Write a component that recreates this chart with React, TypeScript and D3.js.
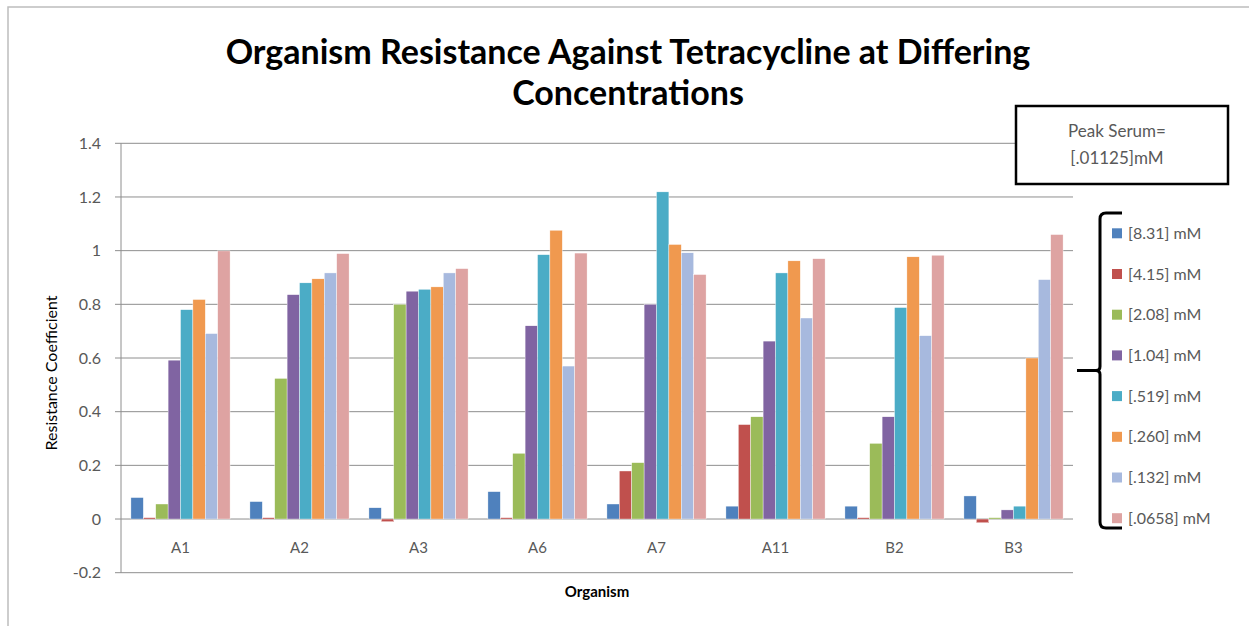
import React from "react";
import * as d3 from "d3";

// Organisms on the category axis
const organisms = ["A1", "A2", "A3", "A6", "A7", "A11", "B2", "B3"];

// Tetracycline concentrations (one series each)
const concentrations = [
  "[8.31] mM",
  "[4.15] mM",
  "[2.08] mM",
  "[1.04] mM",
  "[.519] mM",
  "[.260] mM",
  "[.132] mM",
  "[.0658] mM",
];

// Resistance coefficients, one array per concentration, in organism order
const c831 = [0.08, 0.065, 0.042, 0.102, 0.056, 0.048, 0.048, 0.086];
const c415 = [0.005, 0.005, -0.01, 0.005, 0.179, 0.352, 0.005, -0.014];
const c208 = [0.056, 0.524, 0.8, 0.245, 0.21, 0.381, 0.282, 0.005];
const c104 = [0.592, 0.836, 0.849, 0.72, 0.8, 0.663, 0.381, 0.034];
const c519 = [0.78, 0.88, 0.856, 0.985, 1.219, 0.917, 0.788, 0.048];
const c260 = [0.818, 0.895, 0.865, 1.076, 1.023, 0.962, 0.977, 0.6];
const c132 = [0.691, 0.917, 0.917, 0.57, 0.992, 0.749, 0.683, 0.892];
const c0658 = [0.999, 0.989, 0.933, 0.991, 0.911, 0.97, 0.983, 1.06];

const seriesValues = [c831, c415, c208, c104, c519, c260, c132, c0658];

const yTicks = [-0.2, 0, 0.2, 0.4, 0.6, 0.8, 1, 1.2, 1.4];

const colors = [
  "#4F81BD",
  "#C0504D",
  "#9BBB59",
  "#8064A2",
  "#4BACC6",
  "#F0994F",
  "#A7B9DE",
  "#DEA3A2",
];

const W = 1249;
const H = 626;
const FONT = "Lato, 'Open Sans', sans-serif";
const plot = { left: 121, right: 1073, top: 143.3, bottom: 572.7 };

export default function App() {
  const y = d3.scaleLinear().domain([-0.2, 1.4]).range([plot.bottom, plot.top]);
  const x0 = d3.scaleBand<string>().domain(organisms).range([plot.left, plot.right]);
  const x1 = d3
    .scaleBand<number>()
    .domain(d3.range(concentrations.length))
    .range([0, x0.bandwidth()])
    .paddingInner(0)
    .paddingOuter(0.8);

  const gridColor = "#8E8E8E";
  const labelColor = "#595959";

  // legend layout
  const legendTop = 233.3;
  const legendStep = 40.7;
  const braceTop = 213;
  const braceBottom = 528;
  const braceX = 1100;
  const braceMid = (braceTop + braceBottom) / 2;
  const r = 6;
  const bracePath = [
    `M1122,${braceTop}`,
    `L${braceX + r},${braceTop}`,
    `Q${braceX},${braceTop} ${braceX},${braceTop + r}`,
    `L${braceX},${braceMid - 4}`,
    `Q${braceX},${braceMid} ${braceX - 4},${braceMid}`,
    `L1077,${braceMid}`,
    `M${braceX - 4},${braceMid}`,
    `Q${braceX},${braceMid} ${braceX},${braceMid + 4}`,
    `L${braceX},${braceBottom - r}`,
    `Q${braceX},${braceBottom} ${braceX + r},${braceBottom}`,
    `L1122,${braceBottom}`,
  ].join(" ");

  return (
    <svg
      width={W}
      height={H}
      style={{ position: "absolute", left: 0, top: 0, display: "block", background: "#fff" }}
      fontFamily={FONT}
    >
      <rect x={0} y={0} width={W} height={H} fill="#fff" />
      {/* chart frame */}
      <rect x={8} y={7} width={W + 20} height={H + 20} fill="none" stroke="#BDBDBD" strokeWidth={1.5} />

      {/* title */}
      <text x={628} y={64} textAnchor="middle" fontSize={34} fontWeight={700} fill="#000">
        Organism Resistance Against Tetracycline at Differing
      </text>
      <text x={628} y={105} textAnchor="middle" fontSize={34} fontWeight={700} fill="#000">
        Concentrations
      </text>

      {/* gridlines and y ticks */}
      {yTicks.map((t) => (
        <g key={t}>
          <line x1={115} x2={plot.right} y1={y(t)} y2={y(t)} stroke={gridColor} strokeWidth={1} />
          <text x={101} y={y(t)} dy="0.35em" textAnchor="end" fontSize={16} fill={labelColor}>
            {t}
          </text>
        </g>
      ))}
      <line x1={plot.left} x2={plot.left} y1={plot.top} y2={plot.bottom} stroke={gridColor} strokeWidth={1} />

      {/* bars */}
      {organisms.map((org, gi) => (
        <g key={org} transform={`translate(${x0(org)},0)`}>
          {seriesValues.map((vals, si) => {
            const v = vals[gi];
            const y0 = y(0);
            const yv = y(v);
            return (
              <rect
                key={si}
                x={x1(si)}
                y={Math.min(y0, yv)}
                width={x1.bandwidth()}
                height={Math.abs(y0 - yv)}
                fill={colors[si]}
                stroke="#fff"
                strokeWidth={0.4}
              />
            );
          })}
        </g>
      ))}

      {/* category labels */}
      {organisms.map((org) => (
        <text
          key={org}
          x={(x0(org) as number) + x0.bandwidth() / 2}
          y={548}
          dy="0.35em"
          textAnchor="middle"
          fontSize={15}
          fill={labelColor}
        >
          {org}
        </text>
      ))}

      {/* axis titles */}
      <text x={(plot.left + plot.right) / 2} y={597} textAnchor="middle" fontSize={15} fontWeight={700} fill="#000">
        Organism
      </text>
      <text
        transform={`translate(57,373) rotate(-90)`}
        textAnchor="middle"
        fontSize={16}
        fill="#000"
      >
        Resistance Coefficient
      </text>

      {/* peak serum note */}
      <rect x={1016} y={106} width={212} height={78} fill="#fff" stroke="#000" strokeWidth={2.5} />
      <text x={1117} y={131} dy="0.35em" textAnchor="middle" fontSize={17} fill={labelColor}>
        Peak Serum=
      </text>
      <text x={1117} y={158} dy="0.35em" textAnchor="middle" fontSize={17} fill={labelColor}>
        [.01125]mM
      </text>

      {/* legend with bracket */}
      <path d={bracePath} fill="none" stroke="#000" strokeWidth={3} />
      {concentrations.map((c, i) => {
        const cy = legendTop + i * legendStep;
        return (
          <g key={c}>
            <rect x={1112} y={cy - 5} width={10} height={10} fill={colors[i]} />
            <text x={1128} y={cy} dy="0.35em" fontSize={16} fill={labelColor}>
              {c}
            </text>
          </g>
        );
      })}
    </svg>
  );
}
